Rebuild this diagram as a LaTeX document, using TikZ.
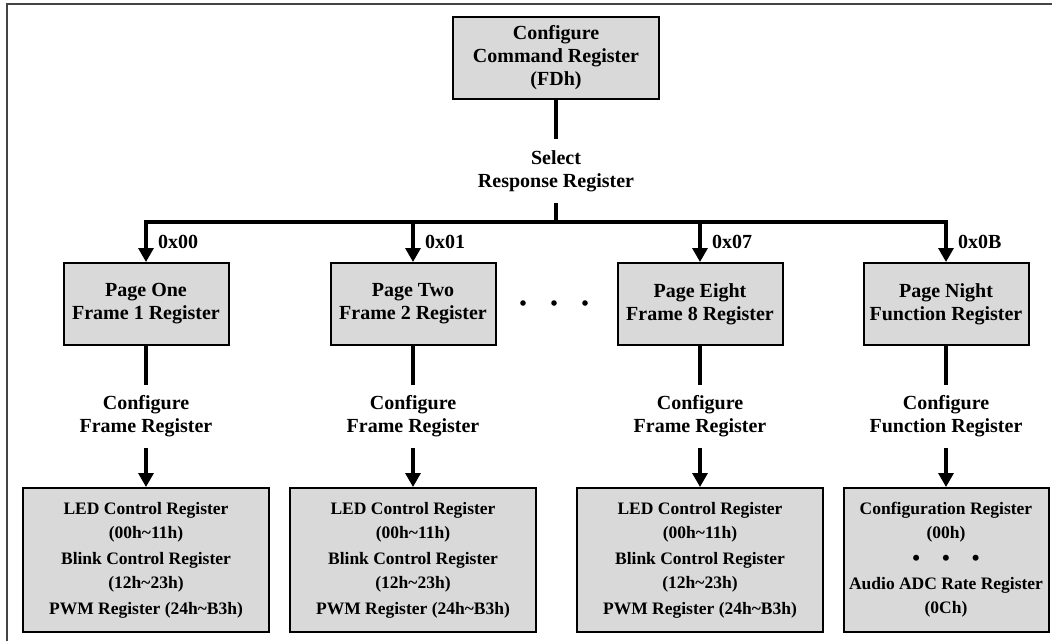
\documentclass[tikz,border=0pt]{standalone}
\usepackage{fontspec}
\setmainfont{Liberation Serif}
\usetikzlibrary{arrows.meta}
\definecolor{boxgray}{RGB}{217,217,217}
\definecolor{framegray}{RGB}{68,68,68}
\tikzstyle{reg}=[draw=black, fill=boxgray, line width=2pt, align=center, inner sep=0pt, font=\bfseries\fontsize{20}{23}\selectfont]
\tikzstyle{sub}=[draw=black, fill=boxgray, line width=2pt, align=center, inner sep=0pt, minimum height=144pt, font=\bfseries\fontsize{17.5}{24}\selectfont]
\tikzstyle{lbl}=[align=center, inner sep=0pt, minimum height=63pt, font=\bfseries\fontsize{20}{23}\selectfont]
\tikzstyle{addr}=[anchor=west, inner sep=0pt, font=\bfseries\fontsize{20}{23}\selectfont]
\tikzstyle{wire}=[line width=3.2pt]
\tikzstyle{arr}=[line width=3.2pt, -{Triangle[length=14pt,width=15pt]}]
\newcommand{\bigdot}{{\fontsize{22}{24}\selectfont\textbullet}}

\begin{document}
\begin{tikzpicture}[x=1pt, y=-1pt]
    \useasboundingbox (0,0) rectangle (1052,641);
    % frame
    \draw[framegray, line width=2.2pt] (7,641) -- (7,4) -- (1052,4);

    \node[reg, minimum width=206pt, minimum height=82pt] (cmd) at (556,58) {Configure\\Command Register\\(FDh)};
    \node[lbl] (sel) at (556,171) {Select\\Response Register};
    \coordinate (bus) at (556,222);
    \coordinate (b1) at (146,222);
    \coordinate (b2) at (413,222);
    \coordinate (b3) at (700,222);
    \coordinate (b4) at (946,222);

    % pages
    \node[reg, minimum width=165pt, minimum height=82pt] (p1) at (146,304) {Page One\\Frame 1 Register};
    \node[reg, minimum width=165pt, minimum height=82pt] (p2) at (413,304) {Page Two\\Frame 2 Register};
    \node[reg, minimum width=165pt, minimum height=82pt] (p3) at (700,304) {Page Eight\\Frame 8 Register};
    \node[reg, minimum width=165pt, minimum height=82pt] (p4) at (946,304) {Page Night\\Function Register};

    \node[addr] (a1) at (158,242) {0x00};
    \node[addr] (a2) at (425,242) {0x01};
    \node[addr] (a3) at (712,242) {0x07};
    \node[addr] (a4) at (958,242) {0x0B};

    \fill (523,303) circle (2.8pt);
    \fill (554,303) circle (2.8pt);
    \fill (585,303) circle (2.8pt);

    % configure labels
    \node[lbl] (c1) at (146,416.5) {Configure\\Frame Register};
    \node[lbl] (c2) at (413,416.5) {Configure\\Frame Register};
    \node[lbl] (c3) at (700,416.5) {Configure\\Frame Register};
    \node[lbl] (c4) at (946,416.5) {Configure\\Function Register};

    % register groups
    \node[sub, minimum width=246pt] (s1) at (146,560) {LED Control Register\\(00h\textasciitilde 11h)\\[2pt]Blink Control Register\\(12h\textasciitilde 23h)\\[2pt]PWM Register (24h\textasciitilde B3h)};
    \node[sub, minimum width=246pt] (s2) at (413,560) {LED Control Register\\(00h\textasciitilde 11h)\\[2pt]Blink Control Register\\(12h\textasciitilde 23h)\\[2pt]PWM Register (24h\textasciitilde B3h)};
    \node[sub, minimum width=246pt] (s3) at (700,560) {LED Control Register\\(00h\textasciitilde 11h)\\[2pt]Blink Control Register\\(12h\textasciitilde 23h)\\[2pt]PWM Register (24h\textasciitilde B3h)};
    \node[sub, minimum width=205pt] (s4) at (946,560) {Configuration Register\\(00h)\\[3pt]\bigdot\hspace{22pt}\bigdot\hspace{22pt}\bigdot\\Audio ADC Rate Register\\(0Ch)};

    \draw[wire] (cmd) -- (sel);
    \draw[wire] (sel) -- (bus);
    \draw[wire, line cap=rect] (b1) -- (b4);

    \draw[arr] (b1) -- (p1);
    \draw[arr] (b2) -- (p2);
    \draw[arr] (b3) -- (p3);
    \draw[arr] (b4) -- (p4);

    \draw[wire] (p1) -- (c1);
    \draw[wire] (p2) -- (c2);
    \draw[wire] (p3) -- (c3);
    \draw[wire] (p4) -- (c4);

    \draw[arr] (c1) -- (s1);
    \draw[arr] (c2) -- (s2);
    \draw[arr] (c3) -- (s3);
    \draw[arr] (c4) -- (s4);
\end{tikzpicture}
\end{document}
